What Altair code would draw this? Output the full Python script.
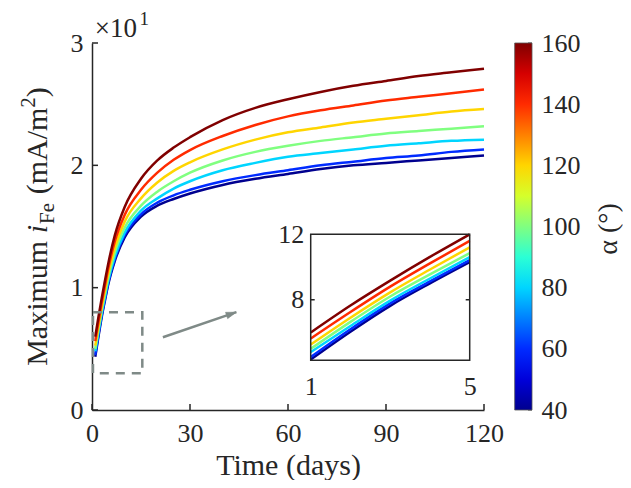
import math
import altair as alt
import pandas as pd

# ---------------- data ----------------
days = [1, 2, 3, 4, 5, 7, 10, 15, 20, 25, 30, 40, 50, 60, 70, 80, 90, 100, 110, 120]
alphas = [40, 60, 80, 100, 120, 140, 160]
# maximum i_Fe in mA/m^2
i_a40 = [4.35, 6.05, 7.63, 9.0, 10.3, 12.2, 14.1, 15.8, 16.7, 17.25, 17.7, 18.4, 18.9, 19.3, 19.7, 20.0, 20.2, 20.4, 20.6, 20.8]
i_a60 = [4.5, 6.2, 7.78, 9.12, 10.42, 12.35, 14.3, 16.0, 16.95, 17.55, 18.0, 18.7, 19.2, 19.6, 20.0, 20.3, 20.6, 20.8, 21.1, 21.3]
i_a80 = [4.8, 6.4, 7.95, 9.3, 10.6, 12.55, 14.5, 16.3, 17.3, 18.1, 18.7, 19.6, 20.2, 20.7, 21.0, 21.3, 21.6, 21.8, 22.0, 22.1]
i_a100 = [5.0, 6.65, 8.2, 9.55, 10.85, 12.9, 14.9, 16.7, 17.85, 18.7, 19.4, 20.4, 21.1, 21.6, 22.0, 22.3, 22.6, 22.8, 23.0, 23.2]
i_a120 = [5.26, 6.9, 8.45, 9.85, 11.2, 13.3, 15.4, 17.3, 18.6, 19.55, 20.25, 21.3, 22.1, 22.7, 23.1, 23.5, 23.8, 24.1, 24.4, 24.6]
i_a140 = [5.63, 7.25, 8.8, 10.22, 11.6, 13.8, 15.95, 18.0, 19.4, 20.45, 21.25, 22.4, 23.3, 24.0, 24.5, 24.9, 25.3, 25.6, 25.9, 26.2]
i_a160 = [6.0, 7.65, 9.17, 10.62, 12.0, 14.3, 16.6, 18.9, 20.4, 21.45, 22.3, 23.7, 24.7, 25.4, 26.0, 26.5, 26.9, 27.3, 27.6, 27.9]
series = {40: i_a40, 60: i_a60, 80: i_a80, 100: i_a100, 120: i_a120, 140: i_a140, 160: i_a160}

x_ticks = [0, 30, 60, 90, 120]
y_ticks = [0, 10, 20, 30]
cbar_ticks = [40, 60, 80, 100, 120, 140, 160]
cbar_range = [40, 160]
inset_x_ticks = [1, 5]
inset_y_ticks = [8, 12]

# zoom box and arrow (data coordinates of main plot)
box_t = [0.3, 15.4]
box_i = [3.0, 8.0]
arrow_t = [21.7, 44.2]
arrow_i = [5.95, 8.0]
# inset ranges
inset_t = [1, 5]
inset_i = [4.3, 12.0]

rows = [{"t": t, "alpha": a, "i": v} for a in alphas for t, v in zip(days, series[a])]
df = pd.DataFrame(rows)

# ---------------- layout ----------------
W, H = 392, 367
FONT = "Liberation Serif"
TXT = "#262626"
GRAY = "#7f8a87"

# inset box in plot pixel coords
IN_L, IN_R, IN_T, IN_B = 218.7, 377.7, 191.3, 317.3
kx = (IN_R - IN_L) / (inset_t[1] - inset_t[0])
ky = (IN_B - IN_T) / (inset_i[1] - inset_i[0])
in_xdom = [inset_t[0] - IN_L / kx, inset_t[1] + (W - IN_R) / kx]
in_ydom = [inset_i[0] - (H - IN_B) / ky, inset_i[1] + IN_T / ky]

# colorbar position (plot pixel coords)
CB_L, CB_R = 422.7, 440.0

color_scale = alt.Scale(domain=[40, 55, 85, 115, 145, 160],
                        range=["#00008f", "#0000ff", "#00ffff", "#ffff00", "#ff0000", "#800000"],
                        interpolate="rgb")
legend = alt.Legend(orient="none", legendX=CB_L, legendY=0, direction="vertical",
                    gradientLength=H, gradientThickness=CB_R - CB_L, values=[],
                    title=None, padding=0,
                    gradientStrokeColor="#555555", gradientStrokeWidth=0.8)
color_enc = alt.Color("alpha:Q", scale=color_scale, legend=legend)

xs = alt.Scale(domain=[0, 120], nice=False, zero=False)
ys = alt.Scale(domain=[0, 30], nice=False, zero=False)
x_axis = alt.Axis(values=x_ticks, ticks=False, grid=False, domainColor=TXT, domainWidth=1.5,
                  labelFontSize=26, labelFont=FONT, labelColor=TXT, labelPadding=10,
                  labelFlush=False, title="Time (days)", titleFontSize=30, titleFont=FONT,
                  titleFontWeight="normal", titleColor=TXT, titlePadding=4)
y_axis = alt.Axis(values=y_ticks, labelExpr="format(datum.value/10, 'd')", ticks=False, grid=False,
                  domainColor=TXT, domainWidth=1.5, labelFontSize=26, labelFont=FONT,
                  labelColor=TXT, labelPadding=9, labelFlush=False, title=None)
X = alt.X("t:Q", scale=xs, axis=x_axis)
Y = alt.Y("i:Q", scale=ys, axis=y_axis)

lines = alt.Chart(df).mark_line(strokeWidth=2.5, interpolate="monotone").encode(
    x=X, y=Y, color=color_enc, detail="alpha:N", order="t:Q")

box_df = pd.DataFrame({"t": [box_t[0]], "t2": [box_t[1]], "i": [box_i[0]], "i2": [box_i[1]]})
box = alt.Chart(box_df).mark_rect(fill=None, stroke=GRAY, strokeWidth=2.5, strokeDash=[9, 7]).encode(
    x=X, x2="t2:Q", y=Y, y2="i2:Q")

arrow_df = pd.DataFrame({"t": arrow_t, "i": arrow_i})
arrow_line = alt.Chart(arrow_df).mark_line(color=GRAY, strokeWidth=2.5).encode(x=X, y=Y)
dxp = (arrow_t[1] - arrow_t[0]) * W / 120
dyp = (arrow_i[1] - arrow_i[0]) * H / 30
ang = 90 - math.degrees(math.atan2(dyp, dxp))
head_df = pd.DataFrame({"t": [arrow_t[1]], "i": [arrow_i[1]]})
arrow_head = alt.Chart(head_df).mark_point(
    shape="M0,0L-0.45,1.4L0.45,1.4Z", filled=True, fill=GRAY, stroke=GRAY, strokeWidth=0.5,
    opacity=1, size=220, angle=ang).encode(x=X, y=Y)

xt_df = pd.DataFrame({"t": x_ticks})
xtick = alt.Chart(xt_df).mark_rule(color=TXT, strokeWidth=1.5).encode(
    x=X, y=alt.value(H), y2=alt.value(H - 6))
yt_df = pd.DataFrame({"i": y_ticks})
ytick = alt.Chart(yt_df).mark_rule(color=TXT, strokeWidth=1.5).encode(
    y=Y, x=alt.value(0), x2=alt.value(6))

def label(txt, x, y, size, angle=0, style="normal", align="left", baseline="alphabetic"):
    kw = dict(align=align, baseline=baseline, font=FONT, fontSize=size, fontStyle=style, color=TXT)
    if angle:
        kw["angle"] = angle
    return alt.Chart(pd.DataFrame({"s": [txt]})).mark_text(**kw).encode(
        text="s:N", x=alt.value(x), y=alt.value(y))

# exponent label
exp_main = label("×10", 2.7, -6, 27)
exp_sup = label("1", 47.5, -18, 19)

# composite y title (rotated)
F, FS = 30, 21
parts = [
    ("Maximum", F, "normal", 0.0, 4.167 * F + 0.25 * F),
    ("i", F, "italic", 0.0, 0.278 * F + 1),
    ("Fe", FS, "normal", 7.0, 1.055 * FS + 0.25 * F),
    ("(mA/m", F, "normal", 0.0, 2.889 * F),
    ("2", FS, "normal", -12.0, 0.5 * FS),
    (")", F, "normal", 0.0, 0.333 * F),
]
total = sum(p[4] for p in parts)
cur = H / 2 + total / 2
XB = -45.3
ytitle = []
for txt, size, style, shift, adv in parts:
    ytitle.append(label(txt, XB + shift, cur, size, angle=270, style=style))
    cur -= adv

cbar_title = label("α (°)", 516.7, 186, 28, angle=270, align="center", baseline="middle")

main = alt.layer(lines, box, arrow_line, arrow_head, xtick, ytick, exp_main, exp_sup,
                 cbar_title, *ytitle)

# ---------------- inset ----------------
ixs = alt.Scale(domain=in_xdom, nice=False, zero=False)
iys = alt.Scale(domain=in_ydom, nice=False, zero=False)
ix_axis = alt.Axis(orient="bottom", offset=-(H - IN_B), values=inset_x_ticks, domain=False, ticks=False,
                   grid=False, labelFontSize=26, labelFont=FONT, labelColor=TXT, labelPadding=13,
                   labelFlush=False, title=None)
iy_axis = alt.Axis(orient="left", offset=-IN_L, values=inset_y_ticks, domain=False, ticks=False,
                   grid=False, labelFontSize=26, labelFont=FONT, labelColor=TXT, labelPadding=7,
                   labelFlush=False, title=None)
IX = alt.X("t:Q", scale=ixs, axis=ix_axis)
IY = alt.Y("i:Q", scale=iys, axis=iy_axis)

inset_lines = alt.Chart(df).transform_filter("datum.t <= 5").mark_line(
    strokeWidth=2.5, interpolate="monotone").encode(
    x=IX, y=IY, color=color_enc, detail="alpha:N", order="t:Q")
ibox_df = pd.DataFrame({"t": [inset_t[0]], "t2": [inset_t[1]], "i": [inset_i[0]], "i2": [inset_i[1]]})
inset_box = alt.Chart(ibox_df).mark_rect(fill=None, stroke=TXT, strokeWidth=1.5).encode(
    x=IX, x2="t2:Q", y=IY, y2="i2:Q")
iyt_df = pd.DataFrame({"i": [8]})
iytick_l = alt.Chart(iyt_df).mark_rule(color=TXT, strokeWidth=1.5).encode(
    y=IY, x=alt.value(IN_L), x2=alt.value(IN_L + 4))
iytick_r = alt.Chart(iyt_df).mark_rule(color=TXT, strokeWidth=1.5).encode(
    y=IY, x=alt.value(IN_R - 4), x2=alt.value(IN_R))

inset = alt.layer(inset_lines, inset_box, iytick_l, iytick_r)

# ---------------- colorbar labels / ticks ----------------
cb_df = pd.DataFrame({"a": cbar_ticks})
cb_scale = alt.Scale(domain=cbar_range, nice=False, zero=False)
cb_axis = alt.Axis(orient="right", offset=CB_R - W, values=cbar_ticks, domain=False, ticks=False,
                   grid=False, labelFontSize=26, labelFont=FONT, labelColor=TXT, labelPadding=9,
                   labelFlush=False, labelOverlap=False, title=None)
cb_ticks = alt.Chart(cb_df).mark_rule(color="#444444", strokeWidth=1).encode(
    y=alt.Y("a:Q", scale=cb_scale, axis=cb_axis), x=alt.value(CB_R - 4), x2=alt.value(CB_R))

chart = alt.layer(main, inset, cb_ticks).resolve_scale(x="independent", y="independent").properties(
    width=W, height=H,
    padding={"left": 84, "top": 35, "right": 631 - 16 - 84 - W, "bottom": 488 - 16 - 35 - H},
    autosize=alt.AutoSizeParams(type="none"),
).configure_view(stroke=None)

chart.save("out.html", embed_options={"renderer": "svg", "actions": False})
